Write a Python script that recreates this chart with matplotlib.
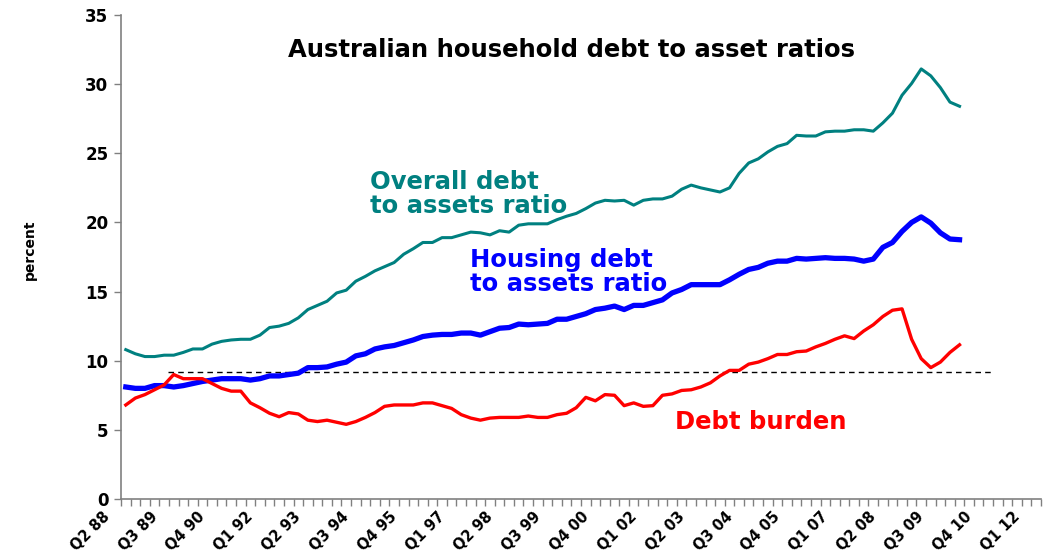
import numpy as np
import matplotlib.pyplot as plt
from matplotlib.transforms import ScaledTranslation

plt.rcParams['font.family'] = ['DejaVu Sans']
plt.rcParams['font.weight'] = 'bold'

# quarterly from Q2 88, one value per quarter
overall_debt = [10.8, 10.5, 10.3, 10.3, 10.4, 10.4, 10.6, 10.85, 10.85, 11.2,
                11.4, 11.5, 11.55, 11.55, 11.85, 12.4, 12.5, 12.7, 13.1, 13.7,
                14.0, 14.3, 14.9, 15.1, 15.75, 16.1, 16.5, 16.8, 17.1, 17.7,
                18.1, 18.55, 18.55, 18.9, 18.9, 19.1, 19.3, 19.25, 19.1, 19.4,
                19.3, 19.8, 19.9, 19.9, 19.9, 20.2, 20.45, 20.65, 21.0, 21.4,
                21.6, 21.55, 21.6, 21.25, 21.6, 21.7, 21.7, 21.9, 22.4, 22.7,
                22.5, 22.35, 22.2, 22.5, 23.55, 24.3, 24.6, 25.1, 25.5, 25.7,
                26.3, 26.25, 26.25, 26.55, 26.6, 26.6, 26.7, 26.7, 26.6, 27.2,
                27.9, 29.2, 30.05, 31.1, 30.6, 29.75, 28.7, 28.4]
housing_debt = [8.1, 8.0, 8.0, 8.2, 8.2, 8.1, 8.2, 8.35, 8.5, 8.6,
                8.7, 8.7, 8.7, 8.6, 8.7, 8.9, 8.9, 9.0, 9.1, 9.5,
                9.5, 9.55, 9.75, 9.9, 10.35, 10.5, 10.85, 11.0, 11.1, 11.3,
                11.5, 11.75, 11.85, 11.9, 11.9, 12.0, 12.0, 11.85, 12.1, 12.35,
                12.4, 12.65, 12.6, 12.65, 12.7, 13.0, 13.0, 13.2, 13.4, 13.7,
                13.8, 13.95, 13.7, 14.0, 14.0, 14.2, 14.4, 14.9, 15.15, 15.5,
                15.5, 15.5, 15.5, 15.85, 16.25, 16.6, 16.75, 17.05, 17.2, 17.2,
                17.4, 17.35, 17.4, 17.45, 17.4, 17.4, 17.35, 17.2, 17.35, 18.2,
                18.55, 19.35, 20.0, 20.4, 19.95, 19.25, 18.8, 18.75]
debt_burden = [6.8, 7.3, 7.55, 7.9, 8.25, 9.0, 8.7, 8.7, 8.7, 8.35,
               8.0, 7.8, 7.8, 6.95, 6.6, 6.2, 5.95, 6.25, 6.15, 5.7,
               5.6, 5.7, 5.55, 5.4, 5.6, 5.9, 6.25, 6.7, 6.8, 6.8,
               6.8, 6.95, 6.95, 6.75, 6.55, 6.1, 5.85, 5.7, 5.85, 5.9,
               5.9, 5.9, 6.0, 5.9, 5.9, 6.1, 6.2, 6.6, 7.35, 7.1,
               7.55, 7.5, 6.75, 6.95, 6.7, 6.75, 7.5, 7.6, 7.85, 7.9,
               8.1, 8.4, 8.9, 9.3, 9.3, 9.75, 9.9, 10.15, 10.45, 10.45,
               10.65, 10.7, 11.0, 11.25, 11.55, 11.8, 11.6, 12.15, 12.6, 13.2,
               13.65, 13.75, 11.55, 10.15, 9.5, 9.9, 10.6, 11.15]
quarter_labels = ['Q2 88', 'Q3 89', 'Q4 90', 'Q1 92', 'Q2 93', 'Q3 94', 'Q4 95',
                  'Q1 97', 'Q2 98', 'Q3 99', 'Q4 00', 'Q1 02', 'Q2 03', 'Q3 04',
                  'Q4 05', 'Q1 07', 'Q2 08', 'Q3 09', 'Q4 10', 'Q1 12']
n_categories = 96
avg_level = 9.15
avg_start, avg_end = 4.4, 90.3

x = np.arange(len(overall_debt))

fig = plt.figure(figsize=(10.44, 5.52), dpi=100)
ax = fig.add_axes([121 / 1044, 1 - 499 / 552, 920 / 1044, 484 / 552])

ax.plot([avg_start, avg_end], [avg_level, avg_level], color='black',
        lw=1, ls=(0, (4, 3)))
ax.plot(x, overall_debt, color='#008080', lw=2.2)
ax.plot(x, housing_debt, color='#0000ff', lw=3.8)
ax.plot(x, debt_burden, color='#ff0000', lw=2.4)

ax.set_yticks(np.arange(0, 36, 5))
ax.set_xticks(np.arange(0, n_categories, 5))
ax.set_xticklabels(quarter_labels, rotation=45, ha='right', va='top',
                   rotation_mode='anchor', fontsize=10.5, fontweight='bold')
ax.set_xticks(np.arange(n_categories + 1) - 0.5, minor=True)
ax.set_xlim(-0.5, n_categories - 0.5)
ax.set_ylim(0, 35)
ax.tick_params(axis='x', which='major', length=0, pad=7)
ax.tick_params(axis='x', which='minor', length=5, width=1, color='#808080',
               direction='out')
ax.tick_params(axis='y', length=5, width=1, color='#808080', pad=4,
               labelsize=12)
for lbl in ax.get_yticklabels():
    lbl.set_fontweight('bold')

# the quarter labels sit a little left of their quarter, as in the original
shift = ScaledTranslation(-0.24, 0, fig.dpi_scale_trans)
for lbl in ax.get_xticklabels():
    lbl.set_transform(lbl.get_transform() + shift)

for side in ['top', 'right']:
    ax.spines[side].set_visible(False)
for side in ['left', 'bottom']:
    ax.spines[side].set_color('#808080')
    ax.spines[side].set_linewidth(1.2)

fig.text(30 / 1044, 1 - 250 / 552, 'percent', rotation=90, ha='center',
         va='center', fontsize=10, fontweight='bold')
fig.text(571 / 1044, 1 - 50 / 552, 'Australian household debt to asset ratios',
         ha='center', va='center', fontsize=17.5, fontweight='bold')
fig.text(370 / 1044, 1 - 194 / 552, 'Overall debt\nto assets ratio',
         ha='left', va='center', fontsize=17.5, fontweight='bold',
         color='#008080', linespacing=0.95)
fig.text(470 / 1044, 1 - 272 / 552, 'Housing debt\nto assets ratio',
         ha='left', va='center', fontsize=17.5, fontweight='bold',
         color='#0000ff', linespacing=0.95)
fig.text(675 / 1044, 1 - 422 / 552, 'Debt burden',
         ha='left', va='center', fontsize=17.5, fontweight='bold',
         color='#ff0000')

fig.savefig('out.png', dpi=100)
